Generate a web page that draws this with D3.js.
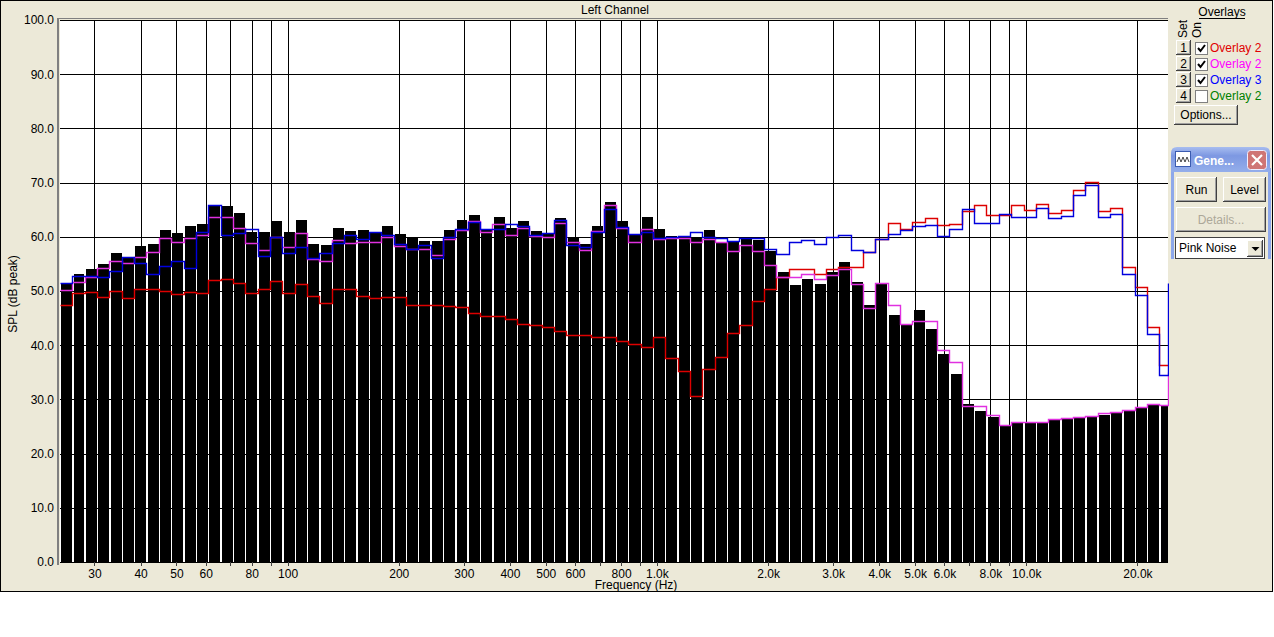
<!DOCTYPE html>
<html><head><meta charset="utf-8">
<script src="https://cdn.jsdelivr.net/npm/d3@7"></script>
<style>
html,body{margin:0;padding:0;background:#fff;}
svg{display:block;}
text{font-family:"Liberation Sans",Arial,sans-serif;font-size:12px;}
</style></head><body>
<svg id="c" width="1274" height="637"></svg>
<script>
// 1/9-octave band centre frequencies (Hz)
const bandHz = [
  25.15, 27.16, 29.34, 31.69, 34.22, 36.96, 39.92, 43.12, 46.57,
  50.30, 54.32, 58.68, 63.38, 68.44, 73.92, 79.84, 86.24, 93.14,
  100.6, 108.6, 117.4, 126.8, 136.9, 147.8, 159.7, 172.5, 186.3,
  201.2, 217.3, 234.7, 253.5, 273.8, 295.7, 319.4, 345.0, 372.6,
  402.4, 434.6, 469.4, 507.0, 547.5, 591.4, 638.7, 689.9, 745.1,
  804.8, 869.1, 938.7, 1014, 1095, 1183, 1277, 1380, 1490,
  1610, 1738, 1877, 2028, 2190, 2366, 2555, 2759, 2980,
  3219, 3476, 3755, 4055, 4380, 4731, 5110, 5519, 5961,
  6438, 6953, 7509, 8110, 8761, 9462, 10219, 11038, 11922,
  12876, 13906, 15019, 16221, 17521, 18924, 20438, 22075, 23842,
  25752
];
// measured SPL (black bars), dB
const measured = [
  51.3, 53.1, 54.05, 55.0, 57.0, 56.1, 58.3, 58.65, 61.2,
  60.7, 62.0, 62.3, 65.8, 65.6, 64.4, 60.9, 60.9, 62.9,
  60.9, 63.1, 58.65, 58.5, 61.6, 61.0, 61.2, 60.8, 62.0,
  60.5, 59.9, 59.2, 59.2, 61.2, 63.1, 64.0, 61.2, 63.6,
  61.6, 62.9, 61.0, 60.6, 63.4, 59.9, 58.65, 62.0, 66.4,
  62.9, 60.6, 63.6, 61.4, 60.1, 60.0, 59.7, 61.25, 59.1,
  59.0, 59.8, 59.5, 57.4, 53.5, 51.1, 52.2, 51.3, 53.5,
  55.35, 51.7, 47.4, 51.3, 45.6, 43.7, 46.5, 43.0, 38.4,
  34.7, 29.15, 27.9, 26.8, 25.3, 25.9, 25.7, 25.9, 26.3,
  26.5, 26.6, 26.8, 27.2, 27.5, 27.9, 28.5, 29.1, 29.0
];
// Overlay 1 (red)
const overlayRed = [
  47.5, 49.6, 49.9, 48.9, 50.0, 48.65, 50.4, 50.4, 50.0,
  49.4, 49.9, 49.7, 52.0, 52.3, 51.4, 49.7, 50.4, 51.8,
  49.6, 51.2, 49.0, 47.85, 50.4, 50.4, 49.0, 48.65, 48.9,
  48.9, 47.5, 47.5, 47.5, 47.3, 47.05, 45.9, 45.4, 45.3,
  44.85, 44.0, 43.7, 43.3, 42.6, 41.9, 41.95, 41.6, 41.5,
  40.7, 40.2, 39.6, 41.6, 37.6, 35.3, 30.55, 35.6, 37.9,
  42.2, 43.7, 48.1, 50.4, 52.6, 54.1, 54.1, 53.1, 54.0,
  54.35, 54.35, 57.2, 59.6, 62.6, 61.5, 62.8, 63.5, 62.1,
  62.45, 64.8, 65.8, 64.1, 64.1, 65.8, 65.0, 66.0, 64.4,
  65.0, 68.7, 70.1, 64.7, 65.4, 54.5, 50.7, 43.4, 36.4
];
// Overlay 2 (magenta)
const overlayMagenta = [
  50.2, 51.6, 52.6, 54.2, 55.6, 55.1, 56.2, 57.2, 59.7,
  59.0, 59.7, 60.4, 63.7, 63.6, 61.7, 58.8, 57.5, 59.9,
  58.2, 60.7, 55.9, 55.6, 59.5, 58.9, 59.0, 59.0, 60.0,
  58.3, 57.7, 57.8, 56.6, 59.6, 61.2, 62.9, 60.8, 62.3,
  60.4, 61.7, 60.2, 60.0, 62.6, 59.1, 57.5, 61.1, 65.8,
  61.7, 59.0, 61.5, 59.6, 59.8, 59.8, 59.1, 59.6, 59.1,
  57.4, 58.5, 57.3, 54.85, 52.6, 52.5, 53.2, 52.3, 52.9,
  54.1, 51.25, 46.85, 51.5, 47.5, 44.0, 44.5, 44.5, 39.2,
  36.85, 28.7, 28.7, 27.05, 25.3, 25.9, 25.8, 25.9, 26.3,
  26.6, 26.75, 27.0, 27.4, 27.7, 28.1, 28.6, 29.1, 29.0,
  35.0
];
// Overlay 3 (blue)
const overlayBlue = [
  51.5, 52.8, 52.8, 52.6, 53.7, 56.2, 55.1, 53.1, 54.7,
  55.6, 54.2, 60.8, 65.8, 60.3, 60.7, 61.35, 56.4, 60.0,
  57.1, 58.2, 56.0, 57.1, 58.8, 60.3, 59.6, 60.8, 60.3,
  58.6, 57.8, 58.4, 56.0, 60.0, 61.5, 62.8, 61.35, 61.5,
  62.3, 62.0, 60.4, 60.7, 63.1, 58.5, 58.2, 60.9, 65.2,
  61.8, 60.6, 60.9, 59.7, 59.9, 60.2, 60.9, 59.9, 59.7,
  59.2, 59.7, 59.7, 57.7, 56.9, 59.0, 59.4, 58.65, 59.9,
  60.4, 57.5, 57.2, 59.6, 60.5, 61.2, 62.0, 62.1, 60.2,
  61.35, 65.2, 62.6, 62.6, 64.2, 63.6, 63.6, 65.4, 63.4,
  63.8, 67.7, 69.6, 63.6, 64.2, 53.1, 49.3, 42.0, 34.5,
  51.5
];
const yTicks = [0, 10, 20, 30, 40, 50, 60, 70, 80, 90, 100];
const xGridHz = [30, 40, 50, 60, 70, 80, 90, 100, 200, 300, 400, 500, 600, 700, 800, 900,
  1000, 2000, 3000, 4000, 5000, 6000, 7000, 8000, 9000, 10000, 20000];
const xLabelHz = [30, 40, 50, 60, 80, 100, 200, 300, 400, 500, 600, 800,
  1000, 2000, 3000, 4000, 5000, 6000, 8000, 10000, 20000];
const xLabelText = ["30", "40", "50", "60", "80", "100", "200", "300", "400", "500", "600", "800",
  "1.0k", "2.0k", "3.0k", "4.0k", "5.0k", "6.0k", "8.0k", "10.0k", "20.0k"];
const legendSet = ["1", "2", "3", "4"];
const legendOn = [true, true, true, false];
const legendLabel = ["Overlay 2", "Overlay 2", "Overlay 3", "Overlay 2"];
const legendColor = ["#e00000", "#ff00ff", "#0000ff", "#008000"];

const lineColors = ["#dd0000", "#e030e0", "#0000dd"];
const BG = "#ece9d8";
const svg = d3.select("#c");
const L = 60, R = 1168, T = 20, B = 562;
const HALF = Math.pow(2, 1 / 18);

const x = d3.scaleLog().domain([24.2, 24200]).range([L, R]).clamp(true);
const y = d3.scaleLinear().domain([0, 100]).range([B, T]);
const px = v => Math.round(v) + 0.5;

// frame
svg.append("rect").attr("x", 0.5).attr("y", 0.5).attr("width", 1272).attr("height", 591)
  .attr("fill", BG).attr("stroke", "#000");

// plot background
svg.append("rect").attr("x", L).attr("y", T).attr("width", R - L).attr("height", B - T).attr("fill", "#fff");

svg.append("defs").append("clipPath").attr("id", "pc")
  .append("rect").attr("x", L).attr("y", T - 1).attr("width", R - L + 1).attr("height", B - T + 2);

// grid
const grid = svg.append("g").attr("stroke", "#000").attr("stroke-width", 1).attr("shape-rendering", "crispEdges");
grid.selectAll("line.h").data(yTicks).join("line").attr("class", "h")
  .attr("x1", L).attr("x2", R).attr("y1", d => px(y(d))).attr("y2", d => px(y(d)));
grid.selectAll("line.v").data(xGridHz).join("line").attr("class", "v")
  .attr("y1", T).attr("y2", B).attr("x1", d => px(x(d))).attr("x2", d => px(x(d)));

const bars = svg.append("g").attr("clip-path", "url(#pc)");
const lines = svg.append("g").attr("clip-path", "url(#pc)");

// bars
const barL = i => Math.round(x(bandHz[i] / HALF) + 1.2);
const barR = i => Math.round(x(bandHz[i] * HALF) - 0.2);
bars.append("g").attr("shape-rendering", "crispEdges").selectAll("rect").data(measured).join("rect")
  .attr("x", (d, i) => barL(i))
  .attr("width", (d, i) => barR(i) - barL(i))
  .attr("y", d => Math.round(y(d)))
  .attr("height", d => B - Math.round(y(d)))
  .attr("fill", "#000");

// overlays as stepped lines (drawn above the bars)
const stepLine = d3.line().curve(d3.curveStepAfter);
[overlayRed, overlayMagenta, overlayBlue].forEach((arr, k) => {
  const pts = arr.map((v, i) => [px(x(bandHz[i] / HALF)), px(y(v))]);
  const n = arr.length - 1;
  pts.push([px(x(bandHz[n] * HALF)), px(y(arr[n]))]);
  lines.append("path").attr("d", stepLine(pts)).attr("fill", "none")
    .attr("stroke", lineColors[k]).attr("stroke-width", 1.4).attr("stroke-linejoin", "miter");
});

// plot border (sunken)
svg.append("line").attr("x1", 58).attr("x2", 58).attr("y1", 18).attr("y2", 565).attr("stroke", "#808080").attr("stroke-width", 2);
svg.append("line").attr("x1", 57).attr("x2", R).attr("y1", 18.5).attr("y2", 18.5).attr("stroke", "#808080");

// axes
const yAxis = svg.append("g").attr("transform", `translate(${L - 2},0)`)
  .call(d3.axisLeft(y).tickValues(yTicks).tickFormat(d3.format(".1f")).tickSize(0).tickPadding(4));
yAxis.select(".domain").remove();
yAxis.selectAll("text").attr("font-size", 12).attr("fill", "#000")
  .attr("font-family", "'Liberation Sans',Arial,sans-serif");

const labelMap = new Map(xLabelHz.map((h, i) => [h, xLabelText[i]]));
const xAxis = svg.append("g").attr("transform", `translate(0,${B})`)
  .call(d3.axisBottom(x).tickValues(xGridHz).tickFormat(d => labelMap.get(d) || "").tickSize(4).tickPadding(3));
xAxis.select(".domain").remove();
xAxis.selectAll(".tick line").attr("stroke", "#404040").attr("shape-rendering", "crispEdges");
xAxis.selectAll("text").attr("font-size", 12).attr("fill", "#000")
  .attr("font-family", "'Liberation Sans',Arial,sans-serif");

// titles
svg.append("text").attr("x", 615).attr("y", 14).attr("text-anchor", "middle").text("Left Channel");
svg.append("text").attr("x", 636).attr("y", 589).attr("text-anchor", "middle").text("Frequency (Hz)");
svg.append("text").attr("transform", "translate(17,294) rotate(-90)").attr("text-anchor", "middle").text("SPL (dB peak)");

// ---------- right panel ----------
function button3d(g, x0, y0, w, h) {
  g.append("rect").attr("x", x0).attr("y", y0).attr("width", w).attr("height", h).attr("fill", BG);
  const s = g.append("g").attr("shape-rendering", "crispEdges").attr("fill", "none");
  s.append("path").attr("d", `M${x0 + 0.5},${y0 + h - 1}V${y0 + 0.5}H${x0 + w - 1}`).attr("stroke", "#fff");
  s.append("path").attr("d", `M${x0},${y0 + h - 0.5}H${x0 + w - 0.5}V${y0}`).attr("stroke", "#404040");
  s.append("path").attr("d", `M${x0 + 1},${y0 + h - 1.5}H${x0 + w - 1.5}V${y0 + 1}`).attr("stroke", "#a0a0a0");
}
const panel = svg.append("g");
panel.append("text").attr("x", 1222).attr("y", 16).attr("text-anchor", "middle").text("Overlays");
panel.append("line").attr("x1", 1199).attr("x2", 1245).attr("y1", 18.5).attr("y2", 18.5).attr("stroke", "#000");
panel.append("text").attr("transform", "translate(1187,38) rotate(-90)").text("Set");
panel.append("text").attr("transform", "translate(1201,38) rotate(-90)").text("On");

legendSet.forEach((s, i) => {
  const cy = 48 + i * 16;
  button3d(panel, 1176, cy - 8, 15, 15);
  panel.append("text").attr("x", 1183.5).attr("y", cy + 4).attr("text-anchor", "middle").text(s);
  panel.append("rect").attr("x", 1195.5).attr("y", cy - 5.5).attr("width", 12).attr("height", 12)
    .attr("fill", "#fff").attr("stroke", "#808080").attr("shape-rendering", "crispEdges");
  if (legendOn[i]) {
    panel.append("path").attr("d", `M${1198},${cy} L${1200.5},${cy + 3} L${1205},${cy - 3}`)
      .attr("fill", "none").attr("stroke", "#000").attr("stroke-width", 2);
  }
  panel.append("text").attr("x", 1210).attr("y", cy + 4).attr("fill", legendColor[i]).text(legendLabel[i]);
});
button3d(panel, 1174, 105, 64, 20);
panel.append("text").attr("x", 1206).attr("y", 119).attr("text-anchor", "middle").text("Options...");

// generator window
const gw = svg.append("g");
const grad = svg.select("defs").append("linearGradient").attr("id", "tb").attr("x1", 0).attr("y1", 0).attr("x2", 0).attr("y2", 1);
grad.append("stop").attr("offset", 0).attr("stop-color", "#a8bdf0");
grad.append("stop").attr("offset", 0.35).attr("stop-color", "#7d98e2");
grad.append("stop").attr("offset", 1).attr("stop-color", "#94aeea");
gw.append("rect").attr("x", 1171).attr("y", 168).attr("width", 100).attr("height", 91).attr("fill", "#8ea8ea");
gw.append("rect").attr("x", 1174).attr("y", 172).attr("width", 94).attr("height", 87).attr("fill", BG);
gw.append("path").attr("d", "M1171,172 V153 Q1171,147 1177,147 H1264 Q1270,147 1270,153 V172 Z").attr("fill", "url(#tb)");
gw.append("rect").attr("x", 1175.5).attr("y", 151.5).attr("width", 15).attr("height", 15).attr("fill", "#fff").attr("stroke", "#3a5bb0");
gw.append("path").attr("d", "M1177,162 L1179,157 L1181,162 L1183,157 L1185,162 L1187,157 L1189,162").attr("fill", "none").attr("stroke", "#333").attr("stroke-width", 0.9);
gw.append("text").attr("x", 1194).attr("y", 165).attr("fill", "#fff").attr("font-weight", "bold").attr("font-size", 13).text("Gene...");
gw.append("rect").attr("x", 1247.5).attr("y", 150.5).attr("width", 19).attr("height", 19).attr("rx", 3)
  .attr("fill", "#cf7575").attr("stroke", "#eef").attr("stroke-width", 1);
gw.append("path").attr("d", "M1252,155 L1262,165 M1262,155 L1252,165").attr("stroke", "#fff").attr("stroke-width", 2.2);

button3d(gw, 1176, 177, 41, 25);
gw.append("text").attr("x", 1196.5).attr("y", 194).attr("text-anchor", "middle").text("Run");
button3d(gw, 1223, 177, 43, 25);
gw.append("text").attr("x", 1244.5).attr("y", 194).attr("text-anchor", "middle").text("Level");
button3d(gw, 1176, 207, 90, 25);
gw.append("text").attr("x", 1221).attr("y", 224).attr("text-anchor", "middle").attr("fill", "#aca899").text("Details...");
gw.append("rect").attr("x", 1175.5).attr("y", 237.5).attr("width", 89).attr("height", 21).attr("fill", "#fff")
  .attr("stroke", "#404040").attr("shape-rendering", "crispEdges");
gw.append("text").attr("x", 1179).attr("y", 252).text("Pink Noise");
button3d(gw, 1247, 240, 16, 17);
gw.append("path").attr("d", "M1251.5,247 H1259.5 L1255.5,251 Z").attr("fill", "#000");
</script>
</body></html>
